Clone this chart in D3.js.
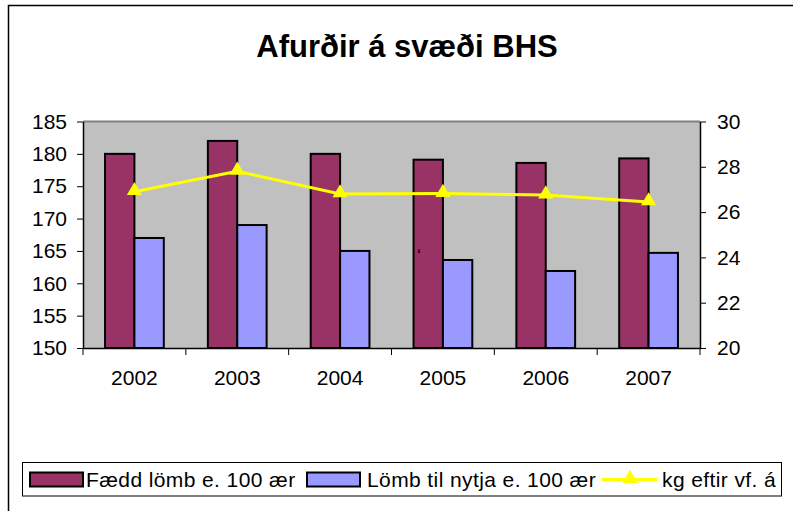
<!DOCTYPE html>
<html>
<head>
<meta charset="utf-8">
<script src="https://cdn.jsdelivr.net/npm/d3@7"></script>
<style>
  body { margin: 0; background: #fff; }
  text { font-family: "Liberation Sans", Arial, sans-serif; }
</style>
</head>
<body>
<div id="chart"></div>
<script>
// data
var years = ["2002", "2003", "2004", "2005", "2006", "2007"];
var faedd = [180, 182, 180, 179.1, 178.6, 179.3];      // Fædd lömb e. 100 ær
var nytja = [167, 169, 165, 163.6, 161.9, 164.7];      // Lömb til nytja e. 100 ær
var kg = [26.9, 27.8, 26.8, 26.82, 26.75, 26.45];       // kg eftir vf. á
var leftTicks = [150, 155, 160, 165, 170, 175, 180, 185];
var rightTicks = [20, 22, 24, 26, 28, 30];
var seriesNames = ["Fædd lömb e. 100 ær", "Lömb til nytja e. 100 ær", "kg eftir vf. á"];
var seriesColors = ["#993366", "#9999FF", "#FFFF00"];

var W = 793, H = 511;
var plot = { left: 83, right: 700, top: 121.5, bottom: 348 };
var font_size = 21;

var svg = d3.select("#chart").append("svg")
    .attr("width", W)
    .attr("height", H);

// outer chart frame (runs off the right and bottom edge)
svg.append("rect")
    .attr("x", 8.5).attr("y", 5.5)
    .attr("width", 820).attr("height", 540)
    .attr("fill", "white")
    .attr("stroke", "black")
    .attr("stroke-width", 1.5);

svg.append("text")
    .text("Afurðir á svæði BHS")
    .attr("x", 407)
    .attr("y", 57)
    .attr("text-anchor", "middle")
    .style("font-size", "31px")
    .style("font-weight", "bold");

var x = d3.scaleBand().domain(years).range([plot.left, plot.right]).padding(0);
var y = d3.scaleLinear().domain([150, 185]).range([plot.bottom, plot.top]);
var y2 = d3.scaleLinear().domain([20, 30]).range([plot.bottom, plot.top]);

// two bars per category, gap width 150%
var barW = x.bandwidth() / 3.5;
var xs = d3.scaleBand().domain([0, 1]).range([-barW, barW]);

// plot area
svg.append("rect")
    .attr("x", plot.left).attr("y", plot.top)
    .attr("width", plot.right - plot.left)
    .attr("height", plot.bottom - plot.top)
    .attr("fill", "#C0C0C0");
svg.append("line")
    .attr("x1", plot.left).attr("x2", plot.right)
    .attr("y1", plot.top).attr("y2", plot.top)
    .attr("stroke", "#808080")
    .attr("stroke-width", 2);

// bars
var barData = [];
years.forEach(function(yr, i) {
    barData.push({ year: yr, s: 0, v: faedd[i] });
    barData.push({ year: yr, s: 1, v: nytja[i] });
});

svg.selectAll(".bar")
    .data(barData)
    .enter().append("rect")
    .attr("class", "bar")
    .attr("x", function(d) { return x(d.year) + x.bandwidth() / 2 + xs(d.s); })
    .attr("y", function(d) { return y(d.v); })
    .attr("width", xs.bandwidth())
    .attr("height", function(d) { return plot.bottom - y(d.v); })
    .attr("fill", function(d) { return seriesColors[d.s]; })
    .attr("stroke", "black")
    .attr("stroke-width", 2);

// left axis
var gl = svg.append("g")
    .attr("transform", "translate(" + plot.left + ",0)")
    .call(d3.axisLeft(y).tickValues(leftTicks).tickSize(6).tickSizeOuter(0).tickPadding(10));
// right axis
var gr = svg.append("g")
    .attr("transform", "translate(" + plot.right + ",0)")
    .call(d3.axisRight(y2).tickValues(rightTicks).tickSize(6).tickSizeOuter(0).tickPadding(11));
// bottom axis: labels centred, ticks between categories
var gb = svg.append("g")
    .attr("transform", "translate(0," + plot.bottom + ")")
    .call(d3.axisBottom(x).tickSize(0).tickSizeOuter(0).tickPadding(22));
gb.selectAll(".tick-sep")
    .data(years.concat(["end"]))
    .enter().append("line")
    .attr("x1", function(d, i) { return plot.left + i * x.step(); })
    .attr("x2", function(d, i) { return plot.left + i * x.step(); })
    .attr("y1", 0).attr("y2", 7)
    .attr("stroke", "black");

[gl, gr, gb].forEach(function(g) {
    g.selectAll("text")
        .style("font-family", '"Liberation Sans", Arial, sans-serif')
        .style("font-size", font_size + "px")
        .attr("fill", "black");
    g.selectAll("line").attr("stroke", "black");
    g.select(".domain").attr("stroke", "black").attr("stroke-width", 1.5);
});

// line series on the right axis
var line = d3.line()
    .x(function(d, i) { return x(years[i]) + x.bandwidth() / 2; })
    .y(function(d) { return y2(d); });

svg.append("path")
    .datum(kg)
    .attr("d", line)
    .attr("fill", "none")
    .attr("stroke", seriesColors[2])
    .attr("stroke-width", 3);

var tri = d3.symbol().type(d3.symbolTriangle).size(100);
svg.selectAll(".marker")
    .data(kg)
    .enter().append("path")
    .attr("class", "marker")
    .attr("d", tri)
    .attr("transform", function(d, i) {
        return "translate(" + (x(years[i]) + x.bandwidth() / 2) + "," + (y2(d) - 1) + ")";
    })
    .attr("fill", seriesColors[2]);

// stray mark in the original
svg.append("text")
    .text("ʻ")
    .attr("x", 417).attr("y", 262)
    .style("font-size", "18px");

// legend
var legend = svg.append("g");
legend.append("rect")
    .attr("x", 22.5).attr("y", 462.5)
    .attr("width", 759).attr("height", 33.5)
    .attr("fill", "white")
    .attr("stroke", "black");

var legX = [30, 307, 602];
var legTextX = [86, 367, 662];
var ly = 479.5;

[0, 1].forEach(function(i) {
    legend.append("rect")
        .attr("x", legX[i]).attr("y", ly - 7)
        .attr("width", 53).attr("height", 14)
        .attr("fill", seriesColors[i])
        .attr("stroke", "black")
        .attr("stroke-width", 2);
});
legend.append("line")
    .attr("x1", legX[2]).attr("x2", legX[2] + 55)
    .attr("y1", ly).attr("y2", ly)
    .attr("stroke", seriesColors[2])
    .attr("stroke-width", 3);
legend.append("path")
    .attr("d", tri)
    .attr("transform", "translate(" + (legX[2] + 28) + "," + (ly - 1) + ")")
    .attr("fill", seriesColors[2]);

legend.selectAll(".leg-text")
    .data(seriesNames)
    .enter().append("text")
    .attr("class", "leg-text")
    .attr("x", function(d, i) { return legTextX[i]; })
    .attr("y", ly + 7.5)
    .text(function(d) { return d; })
    .style("font-size", font_size + "px")
    .style("letter-spacing", "0.4px");
</script>
</body>
</html>
